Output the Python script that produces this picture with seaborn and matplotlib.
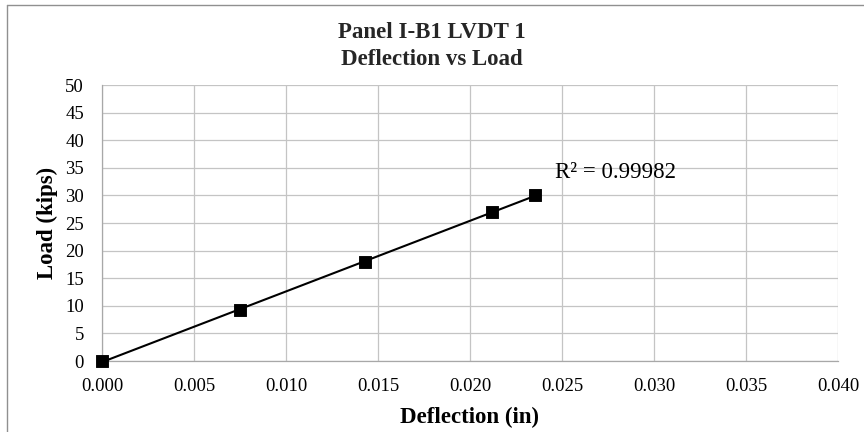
import numpy as np
import pandas as pd
import matplotlib
matplotlib.use("Agg")
import matplotlib.pyplot as plt
import seaborn as sns

deflection = [0.0, 0.00752, 0.01431, 0.0212, 0.02353]
load = [0.0, 9.2, 18.0, 27.0, 30.0]
x_ticks = [0.000, 0.005, 0.010, 0.015, 0.020, 0.025, 0.030, 0.035, 0.040]
y_ticks = [0, 5, 10, 15, 20, 25, 30, 35, 40, 45, 50]
title_lines = ["Panel I-B1 LVDT 1", "Deflection vs Load"]
r2_label = "R² = 0.99982"

sns.set_theme(style="whitegrid")
plt.rcParams['font.family'] = ['Liberation Serif', 'DejaVu Serif']

df = pd.DataFrame({"Deflection": deflection, "Load": load})

W, H = 864, 432
fig = plt.figure(figsize=(8.64, 4.32), dpi=100)
ax = fig.add_axes([102/W, 1-361/H, 736/W, 276/H])

# linear trendline
coef = np.polyfit(deflection, load, 1)
xs = np.array([min(deflection), max(deflection)])
ax.plot(xs, np.polyval(coef, xs), color="black", lw=1.5, zorder=3)

sns.scatterplot(data=df, x="Deflection", y="Load", marker="s", s=65,
                color="black", edgecolor="black", ax=ax, zorder=4, clip_on=False)

ax.set_xlim(0, 0.040)
ax.set_ylim(0, 50)
ax.set_xticks(x_ticks)
ax.set_xticklabels([f"{v:.3f}" for v in x_ticks])
ax.set_yticks(y_ticks)
ax.tick_params(axis="both", labelsize=13.5, colors="black", length=0)
ax.tick_params(axis="x", pad=12)
ax.tick_params(axis="y", pad=13)
ax.grid(True, color="#c4c4c4", lw=0.9)
for s in ["top", "right"]:
    ax.spines[s].set_visible(False)
for s in ["left", "bottom"]:
    ax.spines[s].set_visible(True)
    ax.spines[s].set_color("#a8a8a8")
    ax.spines[s].set_linewidth(0.9)

ax.set_xlabel("Deflection (in)", fontsize=16.5, fontweight="bold", color="black")
ax.xaxis.label.set_verticalalignment("baseline")
ax.xaxis.set_label_coords(0.5, (361-423)/276)
ax.set_ylabel("Load (kips)", fontsize=16.5, fontweight="bold", color="black")
ax.yaxis.label.set_verticalalignment("center")
ax.yaxis.set_label_coords((47-102)/736, 0.5)

fig.text(0.5, 1-38/H, title_lines[0], ha="center", va="baseline",
         fontsize=16.5, fontweight="bold")
fig.text(0.5, 1-65/H, title_lines[1], ha="center", va="baseline",
         fontsize=16.5, fontweight="bold")
ax.text(0.02462, 33.15, r2_label, fontsize=16.5, color="black", va="baseline")

# chart area border (left and top visible)
fig.add_artist(plt.Line2D([7/W, 7/W], [0, 1-5/H], transform=fig.transFigure,
                          color="#909090", lw=1))
fig.add_artist(plt.Line2D([7/W, 1], [1-5/H, 1-5/H], transform=fig.transFigure,
                          color="#909090", lw=1))

fig.savefig("out.png", dpi=100)
